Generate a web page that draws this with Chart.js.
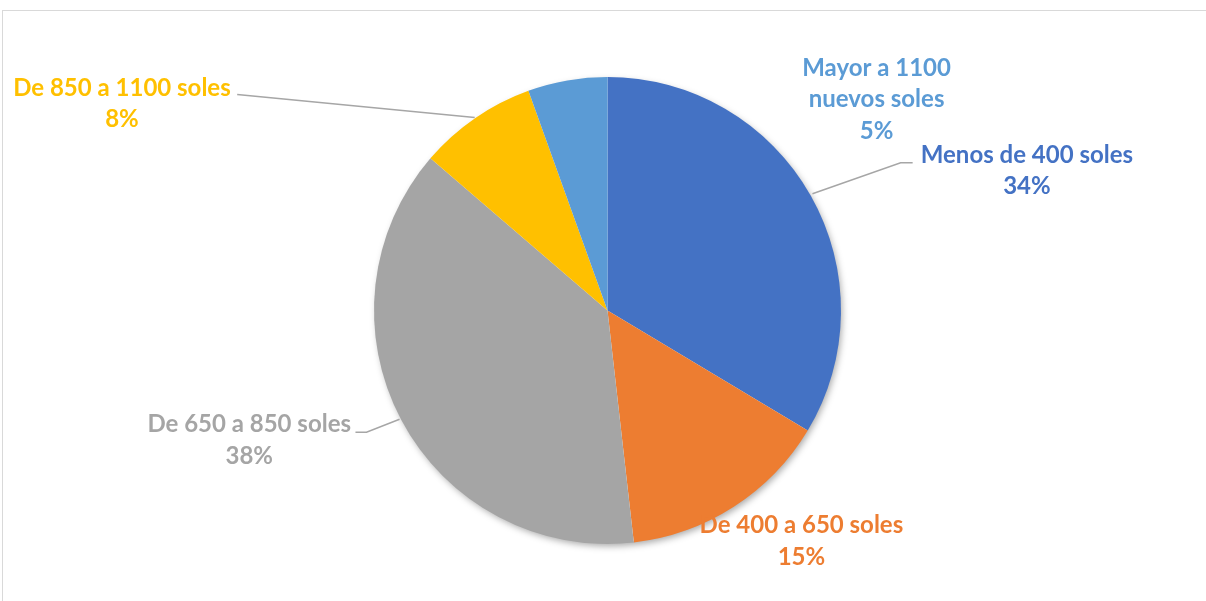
<!DOCTYPE html>
<html lang="es">
<head>
    <meta charset="UTF-8">
    <title>Ingresos mensuales</title>
    <script src="https://cdn.jsdelivr.net/npm/chart.js"></script>
    <style>
        html, body { margin: 0; padding: 0; background: #fff; overflow: hidden; }
        .wrap { position: relative; width: 1206px; height: 601px; }
        .frame {
            position: absolute; left: 2px; top: 10px; width: 1220px; height: 620px;
            border: 1px solid #d9d9d9; pointer-events: none;
        }
        canvas { position: absolute; left: 0; top: 0; }
    </style>
</head>
<body>
    <div class="wrap">
        <div class="frame"></div>
        <canvas id="pieChart" width="1206" height="601"></canvas>
    </div>

    <script>
        // categories, clockwise from 12 o'clock
        const categories = ['Menos de 400 soles', 'De 400 a 650 soles', 'De 650 a 850 soles', 'De 850 a 1100 soles', 'Mayor a 1100 nuevos soles'];
        const sliceValues = [33.6, 14.6, 38.1, 8.2, 5.5];
        // percentages as printed on the labels
        const percentLabels = ['34%', '15%', '38%', '8%', '5%'];
        const colors = ['#4472C4', '#ED7D31', '#A5A5A5', '#FFC000', '#5B9BD5'];

        // label layout, offsets in px for a 233px radius pie (scaled to actual radius)
        const labelLayout = [
            { lines: ['Menos de 400 soles'], cx: 418.5, cy: -139.5, leader: [[304.5, -147.5], [292.5, -147.5], [204.5, -116.5]] },
            { lines: ['De 400 a 650 soles'], cx: 193.5, cy: 230.5, leader: null },
            { lines: ['De 650 a 850 soles'], cx: -357.5, cy: 129.5, leader: [[-251.5, 121.5], [-240.5, 121.5], [-207.5, 108.5]] },
            { lines: ['De 850 a 1100 soles'], cx: -484.5, cy: -206.5, leader: [[-369.5, -215.5], [-132.5, -192.5]] },
            { lines: ['Mayor a 1100', 'nuevos soles'], cx: 268.5, cy: -210.5, leader: null }
        ];

        const pieShadow = {
            id: 'pieShadow',
            beforeDatasetsDraw(chart) {
                const arc = chart.getDatasetMeta(0).data[0];
                const ctx = chart.ctx;
                ctx.save();
                ctx.shadowColor = 'rgba(0,0,0,0.35)';
                ctx.shadowBlur = 7;
                ctx.shadowOffsetX = 2;
                ctx.shadowOffsetY = 3;
                ctx.fillStyle = '#ffffff';
                ctx.beginPath();
                ctx.arc(arc.x, arc.y, arc.outerRadius - 1, 0, Math.PI * 2);
                ctx.fill();
                ctx.restore();
            }
        };

        const sliceLabels = {
            id: 'sliceLabels',
            afterDatasetsDraw(chart) {
                const arc = chart.getDatasetMeta(0).data[0];
                const ctx = chart.ctx;
                const k = arc.outerRadius / 233;
                const lineH = 31.5;
                ctx.save();
                labelLayout.forEach((lab, i) => {
                    if (lab.leader) {
                        ctx.strokeStyle = '#a6a6a6';
                        ctx.lineWidth = 1.5;
                        ctx.beginPath();
                        lab.leader.forEach((p, j) => {
                            const x = arc.x + p[0] * k, y = arc.y + p[1] * k;
                            if (j === 0) ctx.moveTo(x, y); else ctx.lineTo(x, y);
                        });
                        ctx.stroke();
                    }
                    const lines = lab.lines.concat([percentLabels[i]]);
                    const x = arc.x + lab.cx * k;
                    const y0 = arc.y + lab.cy * k - (lines.length - 1) * lineH / 2;
                    ctx.fillStyle = colors[i];
                    ctx.font = 'bold 24px Lato, "Open Sans", sans-serif';
                    ctx.textAlign = 'center';
                    ctx.textBaseline = 'middle';
                    lines.forEach((t, j) => ctx.fillText(t, x, y0 + j * lineH));
                });
                ctx.restore();
            }
        };

        new Chart(document.getElementById('pieChart'), {
            type: 'pie',
            data: {
                labels: categories,
                datasets: [{
                    data: sliceValues,
                    backgroundColor: colors,
                    borderWidth: 0
                }]
            },
            options: {
                responsive: false,
                animation: false,
                layout: { padding: { top: 77, bottom: 57, left: 9, right: 0 } },
                plugins: {
                    legend: { display: false },
                    tooltip: { enabled: false }
                }
            },
            plugins: [pieShadow, sliceLabels]
        });
    </script>
</body>
</html>
